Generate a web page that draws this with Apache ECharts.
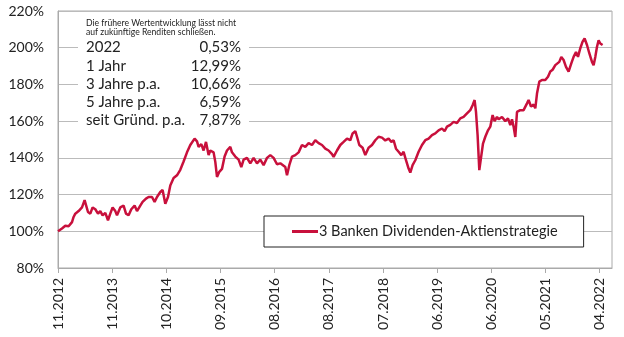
<!DOCTYPE html>
<html><head><meta charset="utf-8">
<script src="https://cdn.jsdelivr.net/npm/echarts@6/dist/echarts.min.js"></script>
<style>html,body{margin:0;padding:0;background:#fff}#c{width:624px;height:337px}</style>
</head><body><div id="c"></div>
<script>
// x position in time-index units (one tick = 54.17 units), value in %
const tickLabels = ["11.2012","11.2013","10.2014","09.2015","08.2016","08.2017","07.2018","06.2019","06.2020","05.2021","04.2022"];
const seriesName = "3 Banken Dividenden-Aktienstrategie";
const xs = [0,4,7.3,10.6,14,15.6,17.3,20.6,24,26.6,28.3,30,32.3,34.6,37.3,40,42.3,44.6,47.3,50,52.3,54.6,57.3,59,62.3,65.6,68,70.6,73.3,76.6,79,82.3,84.6,88,90.6,94,96.6,99,102.3,104.6,107.3,110,112.3,115.6,119,122.3,125.6,129,132.3,136.6,139,140.6,143.3,145.6,148,150.6,152.3,155.6,157.3,159,161.3,164,166.6,169,172.3,174,177.3,180.6,183.3,185.6,189,192.3,195.6,199,202.3,205.6,209,212.3,215.6,219,222.3,224,227.3,229,231.3,234,237.3,240.6,244,247.3,250.6,254,257.3,260.6,264,267.3,270.6,274,275.6,279,282.3,285.6,289,292.3,294.6,297.3,299,301.3,304.6,307.3,310.6,314,317.3,320.6,324,327.3,330.6,333.3,335.6,338,340.6,343.3,345.6,348,350.6,352.3,354.6,357.3,360.6,364,367.3,370.6,374,377.3,380.6,384,386.6,389,392.3,395.6,399,402.3,405.6,409,412.3,414.6,416.6,418,419.6,421.3,423,425,427.3,430,432.3,434.6,436.6,439,440.6,444,447.3,450,452.3,454,455.6,457.3,459,462.3,465.6,469,470.6,473,475.6,477.3,479,481.3,484,487.3,490,492.3,494.6,497.3,499,501.3,503.3,505.6,508,510.6,513.3,515.6,518,520,522.3,524.6,526.6,529,531.3,534,535.6,537.3,539,540.6,542.3,544,544.6];
const values = [100,101.5,103,102.7,105,107.8,109.6,111,113,117,116,110.5,109.6,113,112,109.6,111,108.7,110,106,109.6,113,111,108.7,113,114,109.6,108.7,112,114,111,114,116,117.8,118.7,118.7,116,118.7,121.4,122.5,115,118.7,125,129,130.5,133.5,138,143,147,150.5,149,146,147.5,144,148.7,141.5,144,143,137.8,129.6,132.4,134,140.7,144,146,143,140.7,139,135,139,140,137,140,137,139,136,140,141.5,140,136.5,137,136,135,130.5,136,140.7,141.5,143,147,146,148,147,149.6,148,147,145,144,142,140.5,144,147,148.7,150.5,149.6,153.3,154.5,151.5,147,145.5,141.5,145.5,147,149.6,151.5,151,149.5,150.5,148.7,149.6,145,143.3,141.5,143.3,138.7,134.2,132,136,138.7,143.3,147,149.6,150.5,152.4,153.3,155,156,154.5,157,158,159.6,159,161.5,162.3,164.2,166,168.7,171.5,165,152.4,133.3,140,147.8,151.5,155,157,163.3,160,162.3,161,162.3,160,161.5,157.8,161,157,151.4,165,166,166,169.7,171.5,168,169,167,175,181.5,182.4,182.4,184.2,187,188,190.5,189.7,192.3,195,193.3,189.6,187,191.5,195,197.7,195,199.7,203.3,205,201.5,197,192.3,190.5,195,200.5,204,202.3,203.3,201.5];
const noteLines = ["Die frühere Wertentwicklung lässt nicht","auf zukünftige Renditen schließen."];
const perfLabels = ["2022","1 Jahr","3 Jahre p.a.","5 Jahre p.a.","seit Gründ. p.a."];
const perfValues = ["0,53%","12,99%","10,66%","6,59%","7,87%"];
const yTicks = [80,100,120,140,160,180,200,220];

const TICK = 54.17;
const RED = '#c8103c';
const data = xs.map((x,i)=>[x,values[i]]);
const font = 'Lato, "Noto Sans", sans-serif';
const graphics = [{type:'rect',shape:{x:78,y:14,width:171,height:117},style:{fill:'#fff'},z:10}];
noteLines.forEach((t,i)=>graphics.push({type:'text',x:86,y:23+i*9.5,style:{text:t,font:'8.6px '+font,fill:'#222',textVerticalAlign:'middle'},z:11}));
perfLabels.forEach((t,i)=>{
  graphics.push({type:'text',x:86,y:47.5+i*18.2,style:{text:t,font:'15px '+font,fill:'#222',textVerticalAlign:'middle'},z:11});
  graphics.push({type:'text',x:241,y:47.5+i*18.2,style:{text:perfValues[i],font:'15px '+font,fill:'#222',textAlign:'right',textVerticalAlign:'middle'},z:11});
});
const chart = echarts.init(document.getElementById('c'),null,{renderer:'canvas'});
chart.setOption({
  animation:false,
  grid:{left:58,right:12,top:11,bottom:69,show:true,borderColor:'#aaa',borderWidth:1},
  xAxis:{type:'value',min:0,max:554,interval:TICK,
    axisLine:{show:true,lineStyle:{color:'#aaa'}},
    axisTick:{show:true,length:5,lineStyle:{color:'#aaa'}},
    splitLine:{show:false},
    axisLabel:{rotate:90,margin:10,fontSize:14,fontFamily:font,color:'#222',showMaxLabel:false,
      formatter:v=>{const i=Math.round(v/TICK);return Math.abs(v-i*TICK)<0.5&&tickLabels[i]?tickLabels[i]:'';}}},
  yAxis:{type:'value',min:yTicks[0],max:yTicks[yTicks.length-1],interval:20,
    axisLine:{show:true,lineStyle:{color:'#aaa'}},axisTick:{show:false},
    splitLine:{lineStyle:{color:'#bbb',width:1}},
    axisLabel:{margin:14,fontSize:14,fontFamily:font,color:'#222',formatter:'{value}%'}},
  legend:{left:264,top:216,data:[{name:seriesName,icon:'rect'}],itemWidth:26,itemHeight:3,
    backgroundColor:'#fff',borderColor:'#222',borderWidth:1,borderRadius:0,padding:[8,26,8,28],
    textStyle:{fontSize:14.5,fontFamily:font,color:'#222',padding:[0,0,0,-4]}},
  series:[{name:seriesName,type:'line',data:data,showSymbol:false,symbol:'none',
    lineStyle:{color:RED,width:2.5},itemStyle:{color:RED}}],
  graphic:graphics
});
</script></body></html>
